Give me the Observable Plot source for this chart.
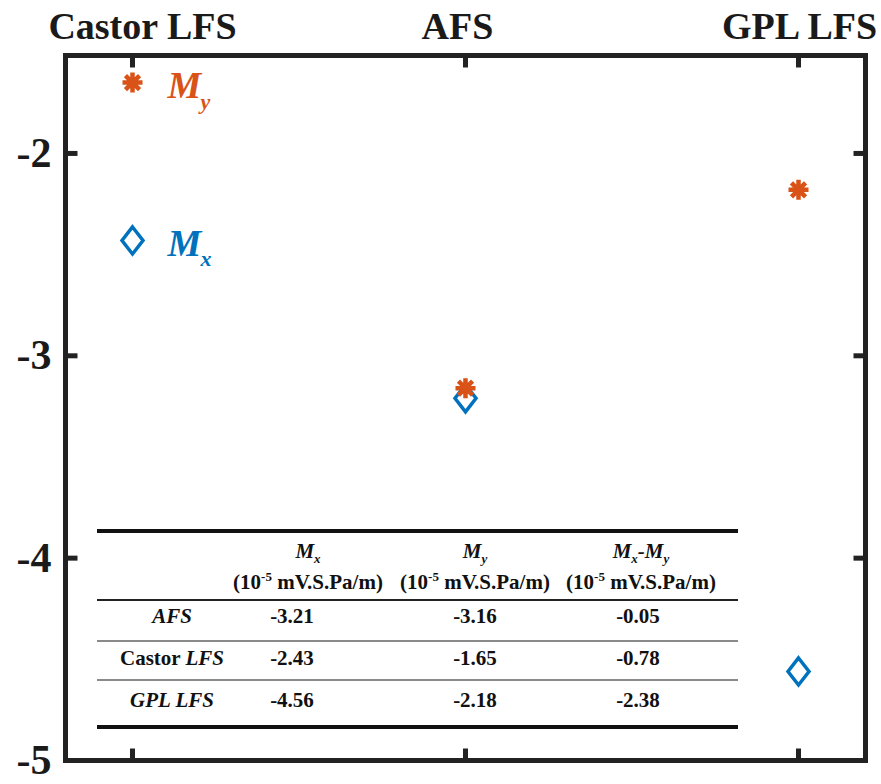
<!DOCTYPE html>
<html><head><meta charset="utf-8">
<script src="https://cdn.jsdelivr.net/npm/d3@7"></script>
<script src="https://cdn.jsdelivr.net/npm/@observablehq/plot@0.6"></script>
<style>
body{margin:0;background:#fff;}
#wrap{position:relative;width:881px;height:784px;font-family:"Liberation Serif","Times New Roman",serif;}
.cell{position:absolute;text-align:center;font-weight:bold;font-size:21px;color:#111;white-space:nowrap;line-height:22px;}
.cell sub,.cell sup{font-size:13px;line-height:0;}
.hl{position:absolute;}
</style></head><body><div id="wrap"></div>
<script>
const samples = ["Castor LFS", "AFS", "GPL LFS"];
const mx = [-2.43, -3.21, -4.56];
const my = [-1.65, -3.16, -2.18];
const yTicks = [-2, -3, -4, -5];
const tableRows = ["AFS", "Castor LFS", "GPL LFS"];
const tableMx = [-3.21, -2.43, -4.56];
const tableMy = [-3.16, -1.65, -2.18];
const tableDiff = [-0.05, -0.78, -2.38];

const blue = "#0072BD", orange = "#D95319", ink = "#222";
const points = samples.flatMap((s, i) => [
  {sample: s, value: mx[i], series: "Mx"},
  {sample: s, value: my[i], series: "My"}
]);
const sym = f => ({draw(c) { f(c); }});
const asterisk = sym(c => { const r = 10; for (let k = 0; k < 4; k++) { const a = k * Math.PI / 4; c.moveTo(r*Math.cos(a), r*Math.sin(a)); c.lineTo(-r*Math.cos(a), -r*Math.sin(a)); } });
const diamond = sym(c => { c.moveTo(0, -13.5); c.lineTo(10.5, 0); c.lineTo(0, 13.5); c.lineTo(-10.5, 0); c.closePath(); });
const tickR = sym(c => { c.moveTo(0, 0); c.lineTo(12, 0); });
const tickL = sym(c => { c.moveTo(0, 0); c.lineTo(-12, 0); });
const tickD = sym(c => { c.moveTo(0, 0); c.lineTo(0, 12); });
const tickU = sym(c => { c.moveTo(0, 0); c.lineTo(0, -12); });
const inner = yTicks.slice(0, 3);
const tickOpts = {stroke: ink, strokeWidth: 5, fill: "none"};
const legendOpts = {x: "s", y: "v", textAnchor: "start", fontWeight: "bold", fontStyle: "italic", fill: "c", lineAnchor: "middle"};
const legend = [{s: samples[0], v: my[0], c: orange, t: "y"}, {s: samples[0], v: mx[0], c: blue, t: "x"}];
const labelShift = [10, -8, 1];

const chart = Plot.plot({
  width: 881, height: 784,
  marginLeft: 65, marginRight: 16, marginTop: 55, marginBottom: 24,
  style: {fontFamily: "Liberation Serif", background: "#fff", color: "#1a1a1a"},
  x: {type: "point", domain: samples, padding: 0.2},
  y: {domain: [-5, -1.516]},
  color: {type: "identity"},
  marks: [
    Plot.axisY({ticks: yTicks, tickSize: 0, tickPadding: 14, tickFormat: d => String(d), fontSize: 42, fontWeight: "bold", label: null}),
    ...samples.map((s, i) => Plot.axisX({anchor: "top", ticks: [s], dx: labelShift[i], tickSize: 0, tickPadding: 17, fontSize: 38, fontWeight: "bold", label: null})),
    Plot.dot(inner, {y: d => d, frameAnchor: "left", symbol: tickR, ...tickOpts}),
    Plot.dot(inner, {y: d => d, frameAnchor: "right", symbol: tickL, ...tickOpts}),
    Plot.dot(samples, {x: d => d, frameAnchor: "top", symbol: tickD, ...tickOpts}),
    Plot.dot(samples, {x: d => d, frameAnchor: "bottom", symbol: tickU, ...tickOpts}),
    Plot.frame({stroke: ink, strokeWidth: 5}),
    Plot.dot(points.filter(d => d.series === "Mx"), {x: "sample", y: "value", symbol: diamond, stroke: blue, strokeWidth: 3.5, fill: "none"}),
    Plot.dot(points.filter(d => d.series === "My"), {x: "sample", y: "value", symbol: asterisk, stroke: orange, strokeWidth: 4.5, fill: "none"}),
    Plot.text(legend, {...legendOpts, text: () => "M", dx: 35, dy: 3, fontSize: 38}),
    Plot.text(legend, {...legendOpts, text: "t", dx: 68, dy: 19, fontSize: 22})
  ]
});
const wrap = document.getElementById("wrap");
wrap.appendChild(chart);

// table overlay
const labelX = 172;
const headX = [308, 475, 641];
const valX = [292, 475, 638];
const rowY = [551, 582, 616, 658, 700];
function cell(html, cx, cy) {
  const d = document.createElement("div");
  d.className = "cell";
  d.style.left = (cx - 110) + "px"; d.style.width = "220px";
  d.style.top = (cy - 11) + "px";
  d.innerHTML = html;
  wrap.appendChild(d);
}
function line(top, h, color) {
  const d = document.createElement("div");
  d.className = "hl";
  d.style.left = "97px"; d.style.width = "641px";
  d.style.top = top + "px"; d.style.height = h + "px"; d.style.background = color;
  wrap.appendChild(d);
}
line(529, 4, "#111"); line(599, 2, "#222"); line(640, 2, "#8a8a8a"); line(679, 2, "#8a8a8a"); line(725, 4, "#111");
const heads = ["<i>M<sub>x</sub></i>", "<i>M<sub>y</sub></i>", "<i>M<sub>x</sub>-M<sub>y</sub></i>"];
const unit = "(10<sup>-5</sup> mV.S.Pa/m)";
heads.forEach((h, j) => { cell(h, headX[j], rowY[0]); cell(unit, headX[j], rowY[1]); });
const fmtLabel = s => s.startsWith("Castor") ? "Castor <i>LFS</i>" : "<i>" + s + "</i>";
tableRows.forEach((r, i) => {
  cell(fmtLabel(r), labelX, rowY[i + 2]);
  cell(tableMx[i].toFixed(2), valX[0], rowY[i + 2]);
  cell(tableMy[i].toFixed(2), valX[1], rowY[i + 2]);
  cell(tableDiff[i].toFixed(2), valX[2], rowY[i + 2]);
});
</script></body></html>
